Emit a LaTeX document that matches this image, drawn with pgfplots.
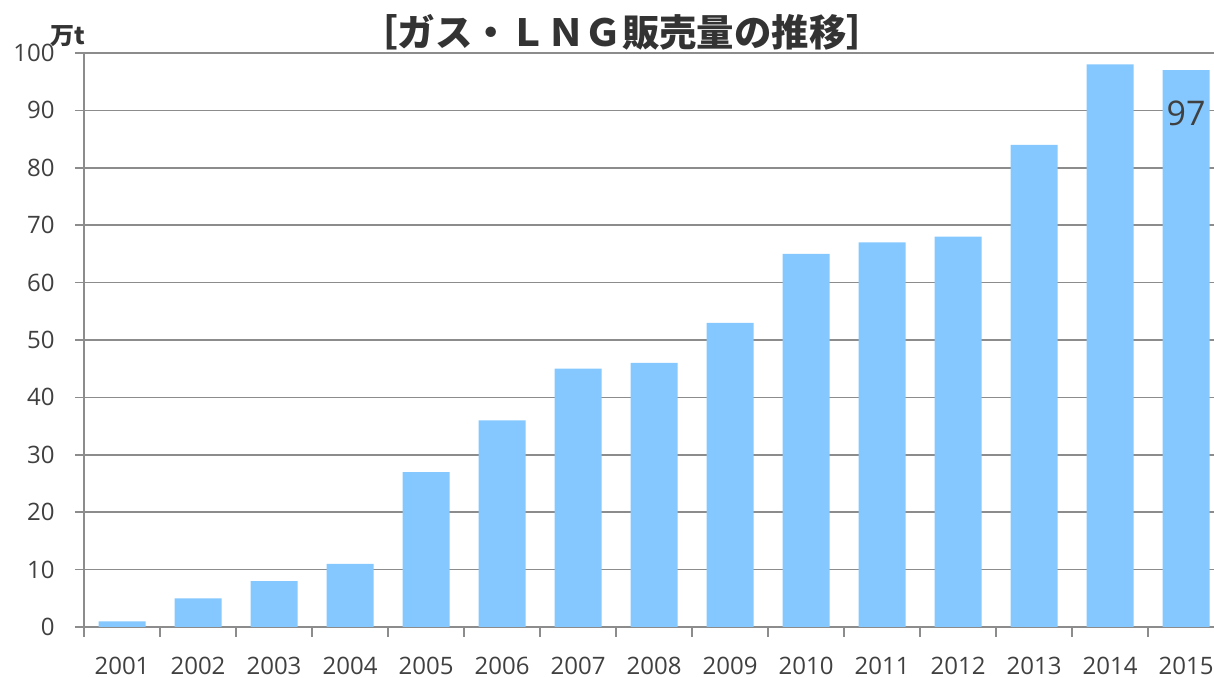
\documentclass[border=0pt]{standalone}
\usepackage{pgfplots}
\pgfplotsset{compat=1.18}
\usepackage{fontspec}
\setmainfont{Open Sans}
\newfontfamily\cjk{Noto Sans CJK JP}
\definecolor{barblue}{HTML}{84C8FF}
\definecolor{gridgray}{HTML}{8C8C8C}
\definecolor{txt}{HTML}{404040}
\definecolor{ttl}{HTML}{333333}
\begin{document}
\begin{tikzpicture}
\useasboundingbox (0,0) rectangle (607pt,339pt);
\begin{axis}[
  at={(42pt,25.5pt)}, anchor=south west,
  scale only axis, width=565pt, height=287pt,
  xmin=-0.5, xmax=14.368, ymin=0, ymax=100,
  axis x line*=bottom, axis y line*=left,
  axis line style={-, draw=gridgray, line width=0.75pt},
  ybar,
  /pgf/number format/assume math mode=true,
  ytick={0,10,...,100},
  ymajorgrids, grid style={gridgray, line width=0.75pt},
  xtick={0,...,14},
  xticklabels={2001,2002,2003,2004,2005,2006,2007,2008,2009,2010,2011,2012,2013,2014,2015},
  major x tick style={draw=none},
  minor xtick={-0.5,0.5,...,13.5},
  minor x tick style={draw=gridgray, line width=0.75pt},
  minor tick length=5pt,
  major tick length=4.5pt,
  tick align=outside,
  ytick style={draw=gridgray, line width=0.75pt},
  tick label style={font=\fontsize{12}{14}\selectfont, text=txt},
  yticklabel style={anchor=east, inner sep=0pt, xshift=-10pt},
  xticklabel style={anchor=base, inner sep=0pt, yshift=-19.5pt},
]
\addplot[fill=barblue, draw=none, bar width=23.5pt] coordinates {
(0,1) (1,5) (2,8) (3,11) (4,27) (5,36) (6,45) (7,46) (8,53) (9,65) (10,67) (11,68) (12,84) (13,98) (14,97)};
\node[font=\fontsize{17}{20}\selectfont, text=txt, anchor=north, inner sep=0pt, yshift=-15pt] at (axis cs:14,97) {97};
\end{axis}
\node[font=\cjk\bfseries\fontsize{18.7}{21}\selectfont, text=ttl] at (311pt,323pt) {［ガス・ＬＮＧ販売量の推移］};
\node[font=\cjk\bfseries\fontsize{12}{14}\selectfont, text=ttl] at (34pt,321pt) {万t};
\end{tikzpicture}
\end{document}
